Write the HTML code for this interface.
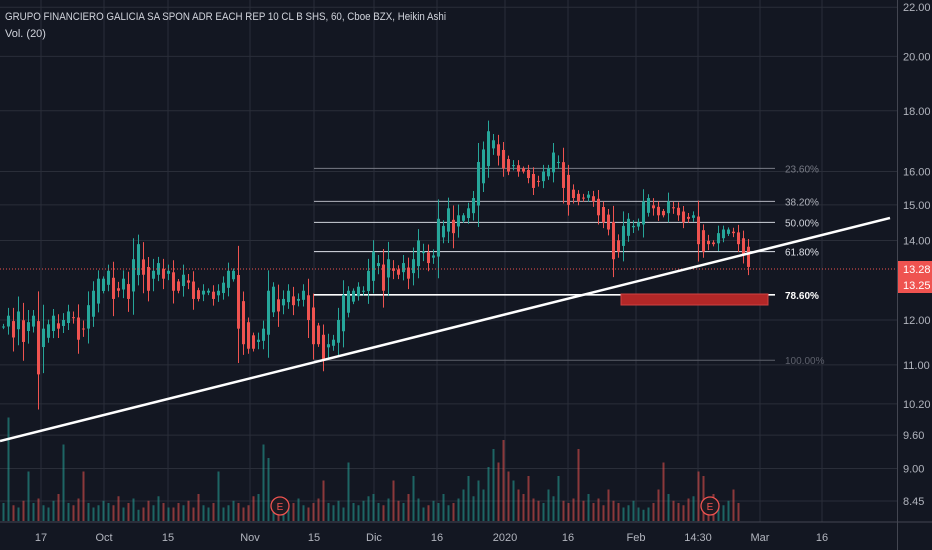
<!DOCTYPE html>
<html><head><meta charset="utf-8"><style>
html,body{margin:0;padding:0;background:#131722;}
svg{display:block;font-family:"Liberation Sans",sans-serif;}
</style></head><body>
<svg id="c" width="932" height="550" xmlns="http://www.w3.org/2000/svg">
<rect x="0" y="0" width="932" height="550" fill="#131722"/>
<g id="grid"></g>
<g id="vol"></g>
<g id="fib"></g>
<rect x="621" y="294" width="147" height="11" fill="#b22727" stroke="#d04040" stroke-width="1"/>
<g id="candles"></g>
<line x1="0" y1="269" x2="897" y2="269" stroke="#ef5350" stroke-width="1" stroke-dasharray="1,2"/>
<line x1="0" y1="441" x2="890" y2="218" stroke="#ffffff" stroke-width="2.5"/>
<g id="axis"></g>
<text x="5" y="20" fill="#d1d4dc" font-size="11" textLength="441" lengthAdjust="spacingAndGlyphs">GRUPO FINANCIERO GALICIA SA SPON ADR EACH REP 10 CL B SHS, 60, Cboe BZX, Heikin Ashi</text>
<text x="5" y="37" fill="#d1d4dc" font-size="11">Vol. (20)</text>
</svg>
<script>
const closes=[11.85,12.1,11.6,12.2,11.5,11.95,12.1,10.8,11.8,11.9,12.1,11.8,12.0,12.2,12.05,11.55,11.8,12.35,12.7,13.0,13.0,13.2,12.5,12.7,13.0,12.5,13.5,13.9,13.1,12.7,13.2,13.4,13.0,13.2,12.7,12.7,13.1,12.9,12.5,12.5,12.7,12.7,12.5,12.7,12.9,13.2,13.2,11.8,11.45,11.35,11.35,11.55,11.8,12.7,12.8,12.2,12.5,12.7,12.35,12.5,12.7,12.0,11.45,11.45,11.1,11.45,11.55,12.0,12.6,12.7,12.7,12.8,12.7,13.2,13.7,13.4,12.7,13.5,13.2,13.1,13.4,13.0,13.5,14.0,13.7,13.4,13.6,14.6,14.4,14.9,14.2,14.7,14.7,14.9,15.2,16.3,16.7,17.3,17.0,16.5,16.1,16.0,16.2,16.0,16.0,15.8,15.5,15.7,16.0,16.1,16.6,16.3,15.5,15.0,15.2,15.1,15.2,15.3,15.1,14.7,14.5,14.3,13.5,13.7,14.4,14.6,14.4,14.5,15.1,15.2,14.9,14.7,14.7,15.1,14.9,14.7,14.5,14.6,14.7,13.9,13.7,13.9,13.9,14.2,14.3,14.3,14.2,13.9,13.6,13.3];
const volumes=[40,230,35,30,45,110,40,50,35,30,45,60,170,40,35,50,110,40,30,35,45,40,35,55,30,40,50,25,30,45,35,55,40,30,30,40,35,45,30,60,35,30,40,110,30,35,45,40,30,35,55,60,170,140,45,40,30,35,40,50,35,30,40,50,90,40,35,45,30,130,40,35,45,55,60,40,35,50,90,45,40,60,100,50,30,35,45,40,60,35,40,50,70,100,55,90,70,120,160,130,180,110,90,70,60,100,50,45,40,70,55,100,45,40,50,160,45,60,40,50,35,70,45,40,30,35,45,30,25,30,40,70,130,60,45,40,35,50,55,110,100,50,60,40,35,45,70,40];
const priceTicks=[22,20,18,16,15,14,12,11,10.2,9.6,9,8.45];
const priceTickLabels=["22.00","20.00","18.00","16.00","15.00","14.00","12.00","11.00","10.20","9.60","9.00","8.45"];
const dateTickLabels=["17","Oct","15","Nov","15","Dic","16","2020","16","Feb","14:30","Mar","16"];
const dateTickIndex=[7.8,20.4,33.2,49.6,62.4,74.4,87,100.6,113.2,126.8,139.2,151.6,164];
const fibLevels=["23.60%","38.20%","50.00%","61.80%","78.60%","100.00%"];
const fibPrices=[16.1,15.1,14.5,13.7,12.6,11.1];
const NS="http://www.w3.org/2000/svg";
function y(p){return 320-(Math.log(p)-Math.log(12))*516;}
function x(i){return 2+i*5;}
function mk(t,a,par){const e=document.createElementNS(NS,t);for(const k in a)e.setAttribute(k,a[k]);par.appendChild(e);return e;}
const G=document.getElementById('grid'),V=document.getElementById('vol'),C=document.getElementById('candles'),A=document.getElementById('axis'),F=document.getElementById('fib');
priceTicks.forEach((p,i)=>{const l=mk('line',{x1:0,x2:897,y1:y(p),y2:y(p),stroke:'#2a2e39','stroke-width':1},G);


const t=mk('text',{x:903,y:y(p)+4,fill:'#b2b5be','font-size':11},A);t.textContent=priceTickLabels[i];

});
dateTickIndex.forEach((d,i)=>{const l=mk('line',{x1:x(d),x2:x(d),y1:0,y2:522,stroke:'#2a2e39','stroke-width':1},G);


const t=mk('text',{x:x(d),y:541,fill:'#b2b5be','font-size':11,'text-anchor':'middle'},A);t.textContent=dateTickLabels[i];

});
mk('line',{x1:0,x2:932,y1:522,y2:522,stroke:'#434651','stroke-width':1},A);
mk('line',{x1:897.5,x2:897.5,y1:0,y2:550,stroke:'#434651','stroke-width':1},A);
[['13.28',269],['13.25',285]].forEach(([s,yy])=>{const r=mk('rect',{x:898,y:yy-8,width:34,height:16,fill:'#ef5350'},A);


const t=mk('text',{x:903,y:yy+4,fill:'#fff','font-size':11},A);t.textContent=s;

});
const fibCol=['#787b86','#b2b5be','#d1d4dc','#e0e3eb','#ffffff','#5d606b'];
fibPrices.forEach((p,i)=>{const l=mk('line',{x1:314,x2:775,y1:y(p),y2:y(p),stroke:fibCol[i],'stroke-width':i==4?1.6:1},F);


const t=mk('text',{x:785,y:y(p)+4,fill:fibCol[i],'font-size':10,'font-weight':i==4?'bold':'normal'},F);t.textContent=fibLevels[i];

});
let po=closes[0],pc=closes[0];
closes.forEach((c,i)=>{const o=(po+pc)/2;const up=c>=o;const col=up?'#26a69a':'#ef5350';
const d=Math.abs(c-pc)*0.5+0.06;const hi=Math.max(o,c)+d,lo=Math.min(o,c)-d;
const w=mk('line',{x1:x(i)+1.5,x2:x(i)+1.5,y1:y(hi),y2:y(lo),stroke:col,'stroke-width':1},C);


const top=Math.min(y(o),y(c));const b=mk('rect',{x:x(i),y:top,width:3,height:Math.max(1,Math.abs(y(o)-y(c))),fill:col},C);


const v=volumes[i]*0.45;const vb=mk('rect',{x:x(i)+0.5,y:521-v,width:2,height:v,fill:up?'rgba(38,166,154,0.55)':'rgba(239,83,80,0.55)'},V);


po=o;pc=c;});
[280,710].forEach(cx=>{const e=mk('circle',{cx:cx,cy:506,r:9,fill:'#1e1a22',stroke:'#ef5350','stroke-width':1.3},A);


const t=mk('text',{x:cx,y:510,fill:'#ef5350','font-size':10,'text-anchor':'middle'},A);t.textContent='E';

});
</script>
</body></html>
